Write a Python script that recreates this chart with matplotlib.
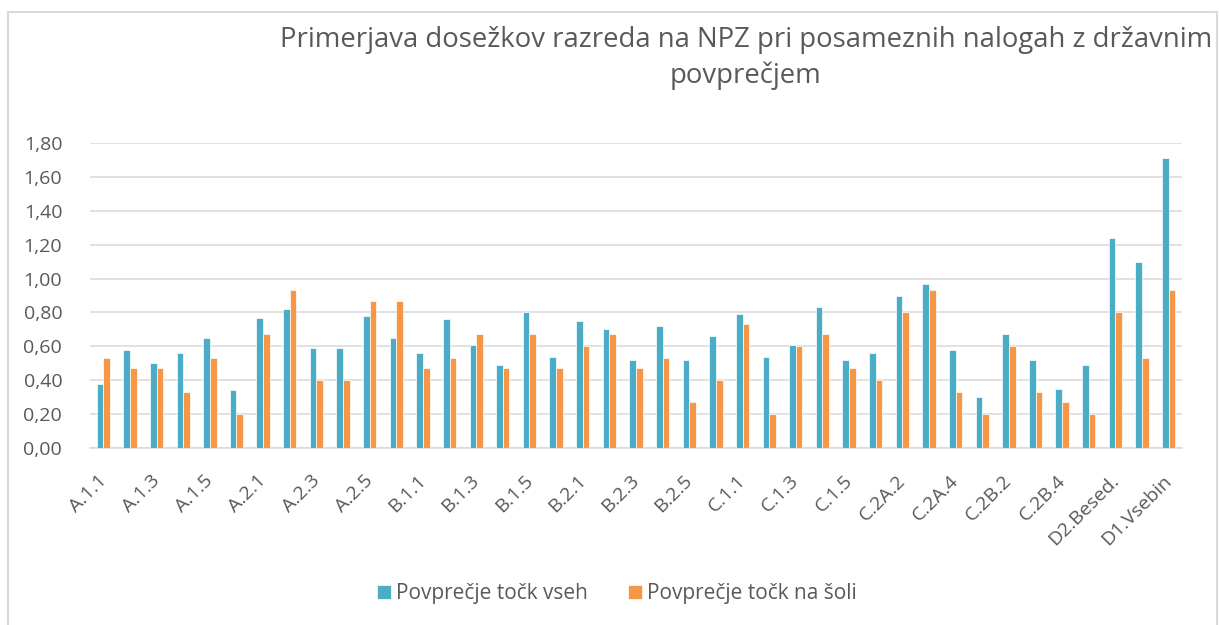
import matplotlib
matplotlib.use("Agg")
import matplotlib.pyplot as plt
import matplotlib.transforms as mtransforms
from matplotlib.patches import Rectangle
from matplotlib.ticker import FuncFormatter
import numpy as np

plt.rcParams["font.family"] = ["Open Sans", "DejaVu Sans"]

# data
categories = [
    "A.1.1", "A.1.2", "A.1.3", "A.1.4", "A.1.5", "A.1.6",
    "A.2.1", "A.2.2", "A.2.3", "A.2.4", "A.2.5", "A.2.6",
    "B.1.1", "B.1.2", "B.1.3", "B.1.4", "B.1.5", "B.1.6",
    "B.2.1", "B.2.2", "B.2.3", "B.2.4", "B.2.5", "B.2.6",
    "C.1.1", "C.1.2", "C.1.3", "C.1.4", "C.1.5",
    "C.2A.1", "C.2A.2", "C.2A.3", "C.2A.4",
    "C.2B.1", "C.2B.2", "C.2B.3", "C.2B.4", "C.2B.5",
    "D2.Besed.", "D1.Jezik", "D1.Vsebin",
]
avg_all = [
    0.38, 0.58, 0.50, 0.56, 0.65, 0.34,
    0.77, 0.82, 0.59, 0.59, 0.78, 0.65,
    0.56, 0.76, 0.61, 0.49, 0.80, 0.54,
    0.75, 0.70, 0.52, 0.72, 0.52, 0.66,
    0.79, 0.54, 0.61, 0.83, 0.52,
    0.56, 0.90, 0.97, 0.58,
    0.30, 0.67, 0.52, 0.35, 0.49,
    1.24, 1.10, 1.71,
]
avg_school = [
    0.53, 0.47, 0.47, 0.33, 0.53, 0.20,
    0.67, 0.93, 0.40, 0.40, 0.87, 0.87,
    0.47, 0.53, 0.67, 0.47, 0.67, 0.47,
    0.60, 0.67, 0.47, 0.53, 0.27, 0.40,
    0.73, 0.20, 0.60, 0.67, 0.47,
    0.40, 0.80, 0.93, 0.33,
    0.20, 0.60, 0.33, 0.27, 0.20,
    0.80, 0.53, 0.93,
]
y_ticks = [0.0, 0.2, 0.4, 0.6, 0.8, 1.0, 1.2, 1.4, 1.6, 1.8]

BLUE = "#4BACC6"
ORANGE = "#F79646"
GREY = "#595959"
GRID = "#D9D9D9"

W, H = 1219, 625
fig = plt.figure(figsize=(W / 100, H / 100), dpi=100)
ax = fig.add_axes([90 / W, 1 - 448 / H, (1182 - 90) / W, (448 - 143) / H])

x = np.arange(len(categories))
bw = 0.25
ax.bar(x - bw / 2, avg_all, bw, color=BLUE, edgecolor="white", linewidth=0.5,
       label="Povprečje točk vseh", zorder=3)
ax.bar(x + bw / 2, avg_school, bw, color=ORANGE, edgecolor="white", linewidth=0.5,
       label="Povprečje točk na šoli", zorder=3)

ax.set_xlim(-0.5, len(categories) - 0.5)
ax.set_ylim(0, 1.8)
ax.set_yticks(y_ticks)
ax.yaxis.set_major_formatter(FuncFormatter(lambda v, p: f"{v:.2f}".replace(".", ",")))
ax.set_xticks(x[::2])
ax.set_xticklabels(categories[::2], rotation=45, ha="right", va="top",
                   rotation_mode="anchor")
ax.tick_params(axis="both", length=0, labelsize=14, colors=GREY)
ax.tick_params(axis="y", pad=20)
ax.tick_params(axis="x", pad=17)
shift = mtransforms.ScaledTranslation(-6 / 100, 0, fig.dpi_scale_trans)
for lbl in ax.get_xticklabels():
    lbl.set_transform(lbl.get_transform() + shift)

ax.grid(axis="y", color=GRID, linewidth=1.1, zorder=0)
for s in ["top", "right", "left"]:
    ax.spines[s].set_visible(False)
ax.spines["bottom"].set_color(GRID)
ax.spines["bottom"].set_linewidth(1.1)

fig.text(746 / W, 1 - 58 / H, "Primerjava dosežkov razreda na NPZ pri posameznih nalogah z državnim\npovprečjem",
         ha="center", va="center", fontsize=19.8, color=GREY, linespacing=1.35)

fig.legend(loc="center", bbox_to_anchor=(617 / W, 1 - 594 / H), ncol=2, frameon=False,
           fontsize=15, labelcolor=GREY, handlelength=0.67, handleheight=0.67,
           handletextpad=0.25, columnspacing=1.9)

fig.patches.append(Rectangle((7.5 / W, -0.02), (1217 - 7.5) / W, 1.02 - 11.5 / H,
                             transform=fig.transFigure, fill=False,
                             edgecolor=GRID, linewidth=1.5))

fig.savefig("out.png", dpi=100)
